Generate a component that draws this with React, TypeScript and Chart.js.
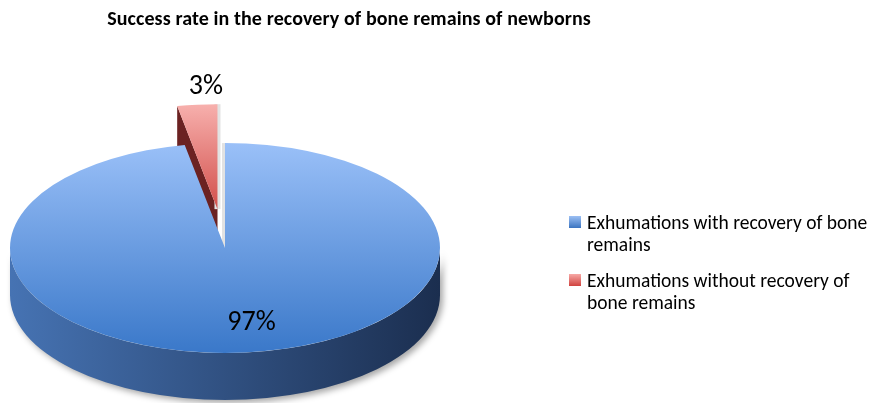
import React, { useEffect, useRef } from "react";
import { Chart, registerables } from "chart.js";

Chart.register(...registerables);

// ---------- data ----------
const TITLE = "Success rate in the recovery of bone remains of newborns";
const categories = [
  "Exhumations with recovery of bone remains",
  "Exhumations without recovery of bone remains",
];
const values = [97, 3];

// ---------- styles ----------
const W = 881;
const H = 403;
const RADIUS = 215; // horizontal radius of the pie (px)
const TILT = 0.488; // vertical squash of the pie
const DEPTH = 47; // thickness of the pie (px)
const SLICE_EXPLODE = [0, 80];
const LABEL_NUDGE_X = 12;
const TOP_COLORS = [
  ["#9ac0f8", "#3a78c9"],
  ["#f7b0ad", "#d24f4b"],
];
const WALL_COLORS = [
  ["#4673b3", "#1b2e4f"],
  ["#8a2a2a", "#4a1010"],
];
const FACE_COLORS = ["#5a78a8", "#6b2222"];
const EDGE_COLOR = "#e2e2e2";
const LEGEND_COLORS = [
  ["#9cc0f4", "#3b74c0"],
  ["#f7a9a6", "#d0433f"],
];
const FONT = "Carlito, Lato, 'Open Sans', sans-serif";

const pie3d = {
  id: "pie3d",
  beforeDatasetsDraw(chart: any) {
    const ctx: CanvasRenderingContext2D = chart.ctx;
    const meta = chart.getDatasetMeta(0);
    const order = meta.data
      .map((_: any, i: number) => i)
      .sort((a: number, b: number) => SLICE_EXPLODE[b] - SLICE_EXPLODE[a]);
    for (const i of order) {
      const arc = meta.data[i];
      if (!arc) continue;
      const { x, y, startAngle, endAngle, outerRadius } = arc.getProps(
        ["x", "y", "startAngle", "endAngle", "outerRadius"],
        true
      );
      const mid = (startAngle + endAngle) / 2;
      const e = SLICE_EXPLODE[i] || 0;
      const ox = x + Math.cos(mid) * e;
      const oy = y + Math.sin(mid) * e * TILT;
      const ry = outerRadius * TILT;

      // outer curved wall (front half only)
      ctx.save();
      ctx.shadowColor = "rgba(0,0,0,0.35)";
      ctx.shadowBlur = 6;
      ctx.shadowOffsetX = 3;
      ctx.shadowOffsetY = 3;
      for (const base of [-2 * Math.PI, 0, 2 * Math.PI]) {
        const a = Math.max(startAngle, base);
        const b = Math.min(endAngle, base + Math.PI);
        if (b <= a) continue;
        const g = ctx.createLinearGradient(ox - outerRadius, 0, ox + outerRadius, 0);
        g.addColorStop(0, WALL_COLORS[i][0]);
        g.addColorStop(1, WALL_COLORS[i][1]);
        ctx.fillStyle = g;
        ctx.beginPath();
        ctx.ellipse(ox, oy, outerRadius, ry, 0, a, b, false);
        ctx.ellipse(ox, oy + DEPTH, outerRadius, ry, 0, b, a, true);
        ctx.closePath();
        ctx.fill();
      }
      ctx.restore();

      // radial cut faces
      if (endAngle - startAngle < 2 * Math.PI - 1e-6) {
        const faces: [number, number][] = [
          [startAngle, startAngle - Math.PI / 2],
          [endAngle, endAngle + Math.PI / 2],
        ];
        for (const [ang, nrm] of faces) {
          const s = Math.sin(nrm);
          const px = ox + Math.cos(ang) * outerRadius;
          const py = oy + Math.sin(ang) * ry;
          ctx.save();
          if (s > 0.02) {
            ctx.fillStyle = FACE_COLORS[i];
            ctx.beginPath();
            ctx.moveTo(ox, oy);
            ctx.lineTo(px, py);
            ctx.lineTo(px, py + DEPTH);
            ctx.lineTo(ox, oy + DEPTH);
            ctx.closePath();
            ctx.fill();
          } else if (s > -0.02) {
            ctx.strokeStyle = EDGE_COLOR;
            ctx.lineWidth = 6;
            ctx.beginPath();
            ctx.moveTo(ox, oy);
            ctx.lineTo(px, py);
            ctx.stroke();
          }
          ctx.restore();
        }
      }

      // top face, drawn by the arc element itself
      ctx.save();
      ctx.translate(ox, oy);
      ctx.scale(1, TILT);
      ctx.translate(-x, -y);
      arc.draw(ctx);
      ctx.restore();
    }
    return false;
  },
  afterDraw(chart: any) {
    const ctx: CanvasRenderingContext2D = chart.ctx;
    const meta = chart.getDatasetMeta(0);
    const total = values.reduce((s, v) => s + v, 0);
    ctx.save();
    ctx.fillStyle = "#000";
    ctx.font = `28px ${FONT}`;
    ctx.textAlign = "center";
    ctx.textBaseline = "middle";
    meta.data.forEach((arc: any, i: number) => {
      const { x, y, startAngle, endAngle, outerRadius } = arc.getProps(
        ["x", "y", "startAngle", "endAngle", "outerRadius"],
        true
      );
      const mid = (startAngle + endAngle) / 2;
      const share = values[i] / total;
      const e = SLICE_EXPLODE[i] || 0;
      const dist = share < 0.1 ? e + outerRadius + 36 : outerRadius * 0.72;
      const lx = x + Math.cos(mid) * dist + LABEL_NUDGE_X;
      const ly = y + Math.sin(mid) * dist * TILT;
      ctx.fillText(`${Math.round(share * 100)}%`, lx, ly);
    });
    ctx.restore();
  },
};

function gradientFor(i: number) {
  return (c: any) => {
    const chart = c.chart;
    const area = chart.chartArea;
    if (!area) return TOP_COLORS[i][1];
    const cy = (area.top + area.bottom) / 2;
    const g = chart.ctx.createLinearGradient(0, cy - RADIUS, 0, i === 0 ? cy + RADIUS : cy);
    g.addColorStop(0, TOP_COLORS[i][0]);
    g.addColorStop(1, TOP_COLORS[i][1]);
    return g;
  };
}

export default function App() {
  const ref = useRef<HTMLCanvasElement | null>(null);

  useEffect(() => {
    if (!ref.current) return;
    const chart = new Chart(ref.current, {
      type: "pie",
      data: {
        labels: categories,
        datasets: [
          {
            data: values,
            backgroundColor: (c: any) => gradientFor(c.dataIndex)(c),
            borderWidth: 0,
            radius: RADIUS,
          } as any,
        ],
      },
      options: {
        animation: false,
        responsive: false,
        maintainAspectRatio: false,
        layout: { padding: { left: 10, right: W - 440, top: 100, bottom: 7 } },
        plugins: {
          legend: { display: false },
          tooltip: { enabled: false },
          title: { display: false },
        },
      },
      plugins: [pie3d],
    });
    return () => chart.destroy();
  }, []);

  return (
    <div
      style={{
        position: "fixed",
        left: 0,
        top: 0,
        width: W,
        height: H,
        background: "#fff",
        overflow: "hidden",
        fontFamily: FONT,
      }}
    >
      <canvas ref={ref} width={W} height={H} style={{ display: "block", position: "absolute", left: 0, top: 0 }} />
      <div
        style={{
          position: "absolute",
          left: 0,
          top: 7,
          width: 698,
          textAlign: "center",
          fontWeight: 700,
          fontSize: 20,
          lineHeight: "22px",
          color: "#000",
          letterSpacing: "0.1px",
          whiteSpace: "nowrap",
        }}
      >
        {TITLE}
      </div>
      {categories.map((label, i) => (
        <div key={label} style={{ position: "absolute", left: 569, top: 211 + i * 58 }}>
          <div
            style={{
              position: "absolute",
              left: 0,
              top: 5,
              width: 12,
              height: 12,
              background: `linear-gradient(${LEGEND_COLORS[i][0]}, ${LEGEND_COLORS[i][1]})`,
            }}
          />
          <div
            style={{
              position: "absolute",
              left: 18,
              top: 0,
              width: 287,
              fontSize: 19.5,
              lineHeight: "22px",
              color: "#000",
            }}
          >
            {label}
          </div>
        </div>
      ))}
    </div>
  );
}
